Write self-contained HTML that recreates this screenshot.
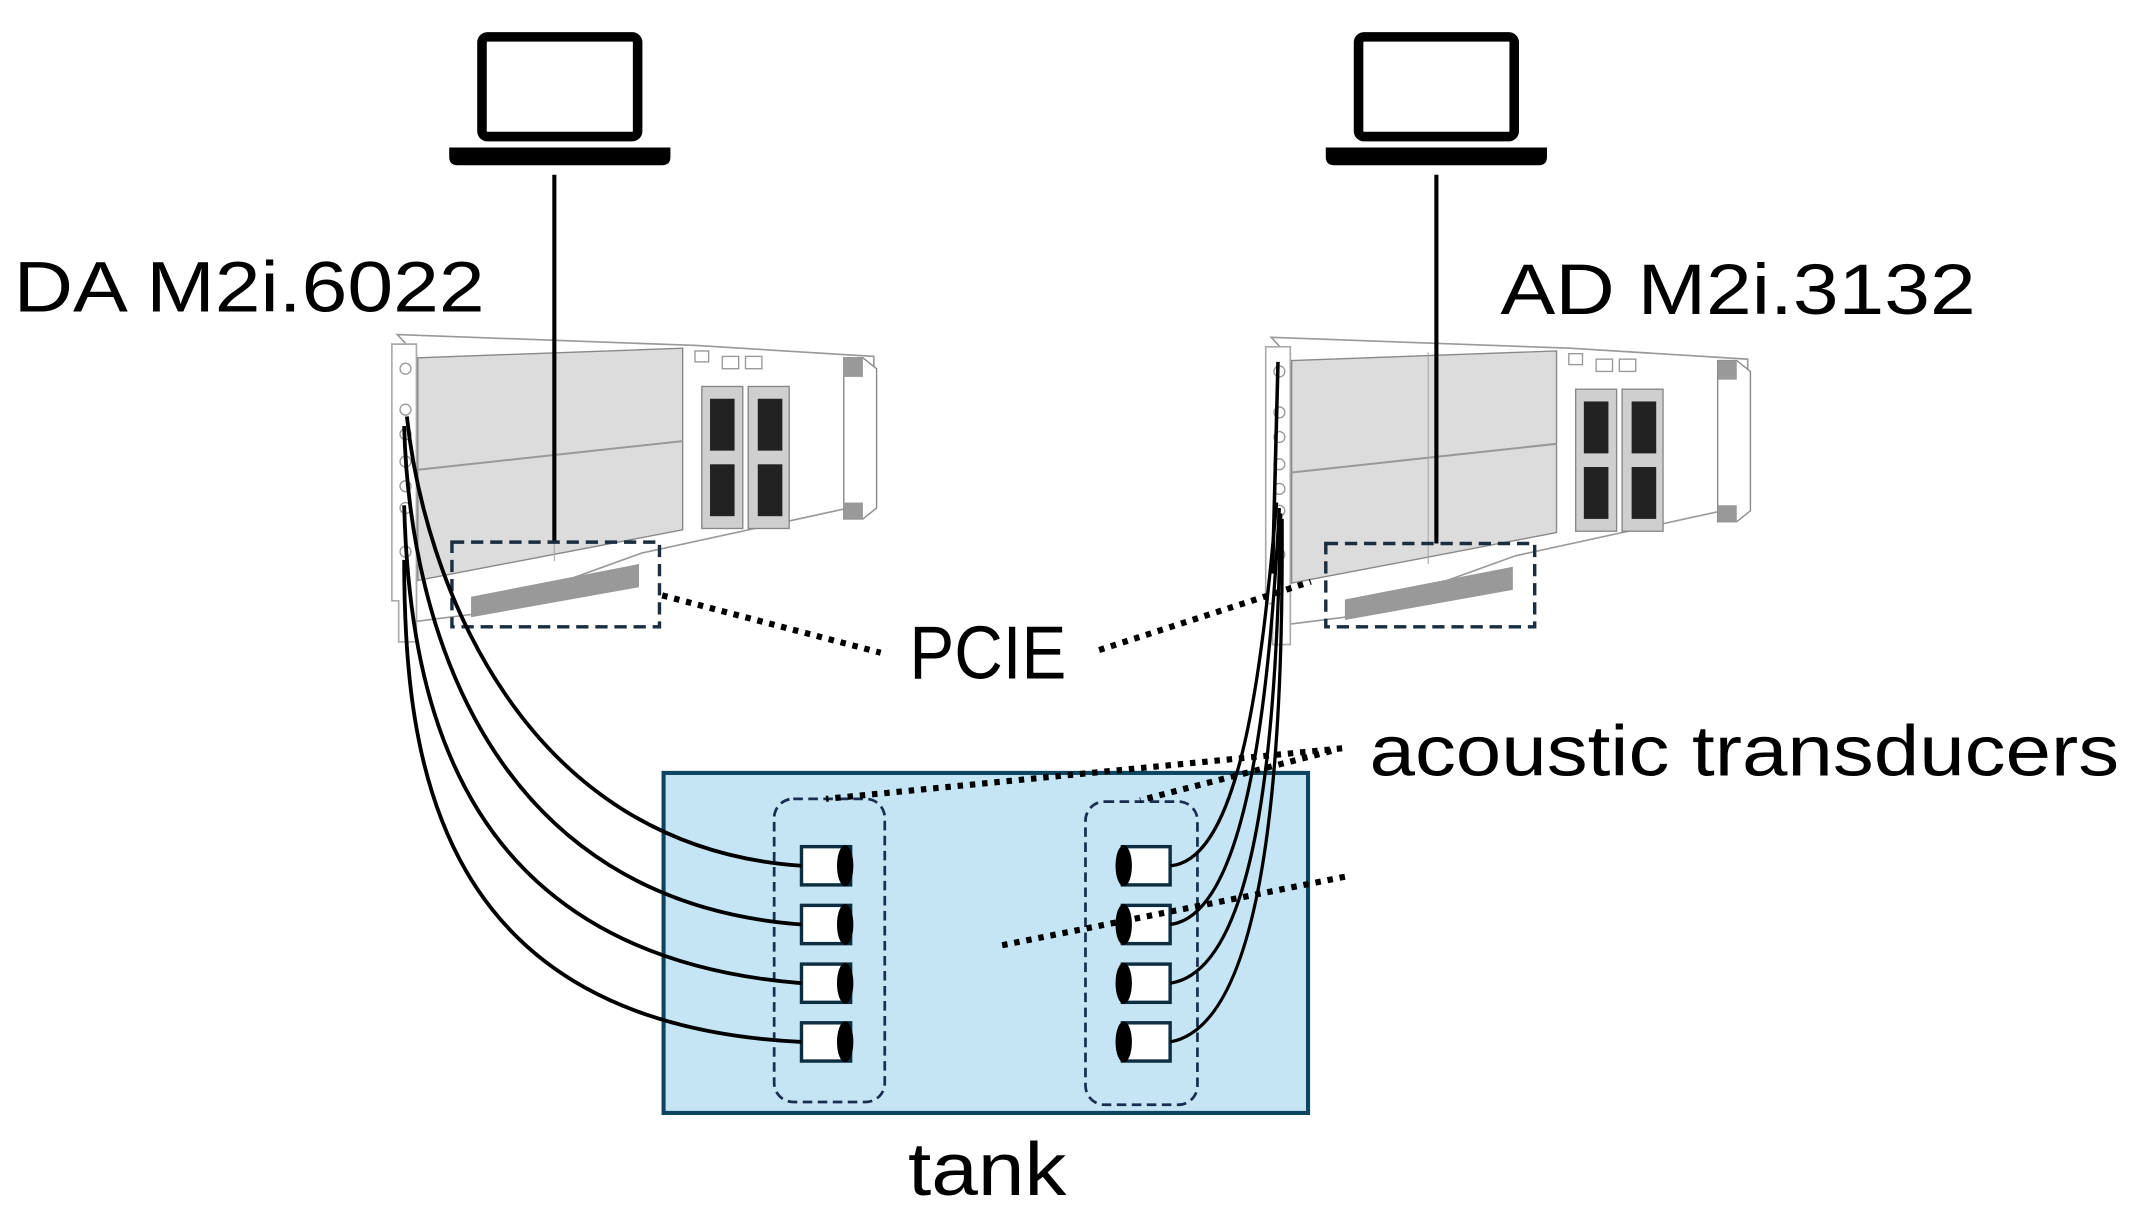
<!DOCTYPE html>
<html><head><meta charset="utf-8"><style>
html,body{margin:0;padding:0;background:#fff;}
svg{display:block;}
text{font-family:"Liberation Sans","DejaVu Sans",sans-serif;fill:#000;}
</style></head><body>
<svg width="2130" height="1214" viewBox="0 0 1560 889" preserveAspectRatio="none" xmlns="http://www.w3.org/2000/svg">
<defs>
<g id="card">
  <polygon points="291,245 510,253 640,261 640,368 470,405 345,450 305,455 305,260" fill="#fff" stroke="#999" stroke-width="1.2"/>
  <polygon points="287,252 305,252 305,470 292,470 292,440 287,440" fill="#fff" stroke="#aaa" stroke-width="1.2"/>
  <polygon points="306,262 500,255 500,388 306,425" fill="#dcdcdc" stroke="#888" stroke-width="1"/>
  <line x1="306" y1="344" x2="500" y2="323" stroke="#999" stroke-width="1.5"/>
  <line x1="406" y1="256" x2="406" y2="411" stroke="#aaa" stroke-width="0.8"/>
  <rect x="514" y="283" width="30" height="104" fill="#cfcfcf" stroke="#888"/>
  <rect x="548" y="283" width="30" height="104" fill="#cfcfcf" stroke="#888"/>
  <rect x="520" y="292" width="18" height="38" fill="#222"/>
  <rect x="520" y="340" width="18" height="38" fill="#222"/>
  <rect x="555" y="292" width="18" height="38" fill="#222"/>
  <rect x="555" y="340" width="18" height="38" fill="#222"/>
  <rect x="509" y="257" width="10" height="8" fill="#fff" stroke="#999"/>
  <rect x="529" y="261" width="12" height="9" fill="#fff" stroke="#999"/>
  <rect x="546" y="261" width="12" height="9" fill="#fff" stroke="#999"/>
  <polygon points="618,262 632,262 642,270 642,372 632,380 618,380" fill="#fff" stroke="#888"/>
  <rect x="618" y="262" width="14" height="14" fill="#999"/>
  <rect x="618" y="368" width="14" height="12" fill="#999"/>
  <polygon points="345,437 468,413 468,430 345,452" fill="#999"/>
  <g fill="#fff" stroke="#999" stroke-width="1">
    <circle cx="297" cy="270" r="4"/><circle cx="297" cy="300" r="4"/><circle cx="297" cy="318" r="4"/>
    <circle cx="297" cy="338" r="4"/><circle cx="297" cy="356" r="4"/><circle cx="297" cy="372" r="4"/><circle cx="297" cy="404" r="4"/>
  </g>
</g>
<g id="laptop">
  <rect x="-57" y="27" width="114" height="73" rx="4" fill="#fff" stroke="#000" stroke-width="7"/>
  <path d="M-81,108 H81 V115 Q81,121 75,121 H-75 Q-81,121 -81,115 Z" fill="#000"/>
</g>
</defs>

<use href="#card"/>
<use href="#card" transform="translate(640,2)"/>

<use href="#laptop" transform="translate(410,0)"/>
<use href="#laptop" transform="translate(1052,0)"/>
<line x1="406" y1="128" x2="406" y2="396" stroke="#000" stroke-width="3"/>
<line x1="1052" y1="128" x2="1052" y2="398" stroke="#000" stroke-width="3"/>

<rect x="331" y="397" width="152" height="62" fill="none" stroke="#1a2e40" stroke-width="2.5" stroke-dasharray="9,5"/>
<rect x="971" y="398" width="153" height="61" fill="none" stroke="#1a2e40" stroke-width="2.5" stroke-dasharray="9,5"/>

<rect x="486" y="566" width="472" height="249" fill="#c5e5f4" stroke="#0d4560" stroke-width="3"/>
<rect x="567" y="585" width="81" height="222" rx="14" fill="none" stroke="#1a2e50" stroke-width="2" stroke-dasharray="7,4"/>
<rect x="795" y="587" width="82" height="222" rx="14" fill="none" stroke="#1a2e50" stroke-width="2" stroke-dasharray="7,4"/>

<g stroke="#0d2e40" stroke-width="2.5">
  <rect x="587" y="620" width="36" height="28" fill="#fff"/>
  <rect x="587" y="663" width="36" height="28" fill="#fff"/>
  <rect x="587" y="706" width="36" height="28" fill="#fff"/>
  <rect x="587" y="749" width="36" height="28" fill="#fff"/>
  <rect x="822" y="620" width="35" height="28" fill="#fff"/>
  <rect x="822" y="663" width="35" height="28" fill="#fff"/>
  <rect x="822" y="706" width="35" height="28" fill="#fff"/>
  <rect x="822" y="749" width="35" height="28" fill="#fff"/>
</g>
<g fill="#000">
  <ellipse cx="619" cy="634" rx="6" ry="15"/><ellipse cx="619" cy="677" rx="6" ry="15"/>
  <ellipse cx="619" cy="720" rx="6" ry="15"/><ellipse cx="619" cy="763" rx="6" ry="15"/>
  <ellipse cx="823" cy="634" rx="6" ry="15"/><ellipse cx="823" cy="677" rx="6" ry="15"/>
  <ellipse cx="823" cy="720" rx="6" ry="15"/><ellipse cx="823" cy="763" rx="6" ry="15"/>
</g>

<g fill="none" stroke="#000" stroke-width="2.8">
  <path d="M298,305 C310,420 380,620 587,634"/>
  <path d="M296,312 C300,460 360,660 587,677"/>
  <path d="M296,370 C300,520 340,700 587,720"/>
  <path d="M296,410 C296,560 320,750 587,763"/>
</g>
<g fill="none" stroke="#000" stroke-width="2.4">
  <path d="M935,368 C925,480 910,630 857,634"/>
  <path d="M937,372 C930,500 915,670 857,677"/>
  <path d="M938,376 C935,520 925,710 857,720"/>
  <path d="M939,380 C940,540 930,750 857,763"/>
  <path d="M936,265 L932,420" stroke-width="2.6"/>
</g>

<g fill="none" stroke="#000" stroke-width="4.5" stroke-dasharray="4,5">
  <line x1="485" y1="436" x2="645" y2="478"/>
  <line x1="805" y1="476" x2="960" y2="426"/>
  <line x1="983" y1="548" x2="605" y2="585"/>
  <line x1="975" y1="550" x2="835" y2="586"/>
  <line x1="985" y1="642" x2="730" y2="693"/>
</g>

<text x="10" y="228" font-size="52" textLength="345" lengthAdjust="spacingAndGlyphs">DA M2i.6022</text>
<text x="1099" y="230" font-size="52" textLength="348" lengthAdjust="spacingAndGlyphs">AD M2i.3132</text>
<text x="666" y="497" font-size="55" textLength="115" lengthAdjust="spacingAndGlyphs">PCIE</text>
<text x="1003" y="568" font-size="52" textLength="549" lengthAdjust="spacingAndGlyphs">acoustic transducers</text>
<text x="665" y="875" font-size="55" textLength="116" lengthAdjust="spacingAndGlyphs">tank</text>
</svg>
</body></html>
